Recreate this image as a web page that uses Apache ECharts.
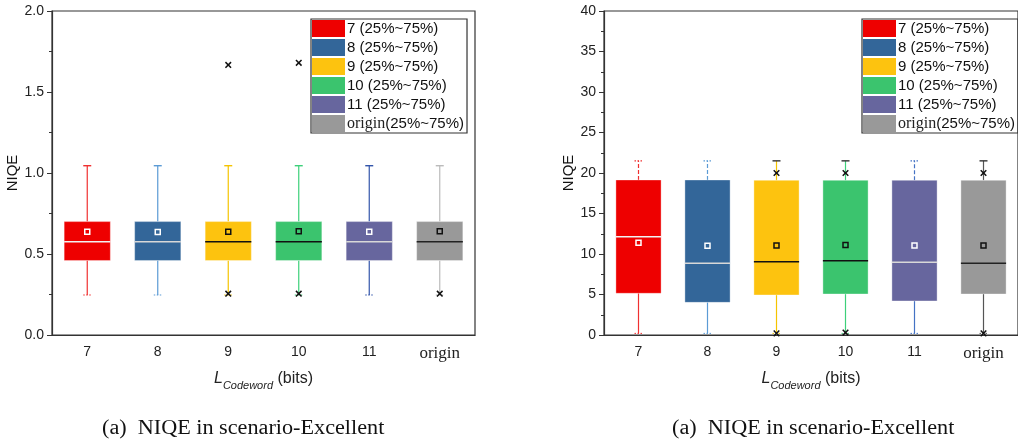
<!DOCTYPE html>
<html>
<head>
<meta charset="utf-8">
<script src="https://cdn.jsdelivr.net/npm/echarts@6/dist/echarts.min.js"></script>
<style>html,body{margin:0;padding:0;background:#fff;}#c{width:1018px;height:443px;}</style>
</head>
<body>
<div id="c"></div>
<script>
// ---------- DATA ----------
const categories = ['7', '8', '9', '10', '11', 'origin'];
const legendNames = ['7 (25%~75%)', '8 (25%~75%)', '9 (25%~75%)', '10 (25%~75%)', '11 (25%~75%)', 'origin(25%~75%)'];

// Left chart
const leftLow    = [0.247, 0.247, 0.247, 0.247, 0.247, 0.247];
const leftQ1     = [0.460, 0.460, 0.460, 0.460, 0.460, 0.460];
const leftMedian = [0.576, 0.576, 0.576, 0.576, 0.576, 0.576];
const leftQ3     = [0.700, 0.700, 0.700, 0.700, 0.700, 0.700];
const leftHigh   = [1.045, 1.045, 1.045, 1.045, 1.045, 1.045];
const leftMean   = [0.638, 0.636, 0.638, 0.640, 0.638, 0.640];
const leftOutliers = [[2, 1.667], [3, 1.680], [2, 0.255], [3, 0.255], [5, 0.255]];
const leftYTicks = [0, 0.5, 1.0, 1.5, 2.0];

// Right chart
const rightLow    = [0.2, 0.2, 0.2, 0.2, 0.2, 0.2];
const rightQ1     = [5.15, 4.03, 4.94, 5.06, 4.20, 5.06];
const rightMedian = [12.14, 8.85, 9.05, 9.17, 8.97, 8.85];
const rightQ3     = [19.14, 19.14, 19.10, 19.10, 19.10, 19.10];
const rightHigh   = [21.5, 21.5, 21.5, 21.5, 21.5, 21.5];
const rightMean   = [11.40, 11.03, 11.05, 11.10, 11.05, 11.05];
const rightOutliers = [[2, 20.0], [3, 20.0], [5, 20.0], [2, 0.2], [3, 0.3], [5, 0.2]];
const rightYTicks = [0, 5, 10, 15, 20, 25, 30, 35, 40];

// ---------- STYLES ----------
const fillColors    = ['#EE0000', '#336699', '#FDC30F', '#3BC46E', '#67669E', '#999999'];
const leftWhisker   = ['#F03030', '#5B9BD5', '#F5C400', '#3DD07A', '#3355AA', '#BBBBBB'];
const rightWhisker  = ['#F03030', '#5B9BD5', '#F5C400', '#3DD07A', '#4472C4', '#555555'];
const medianColors  = ['#F2F2F2', '#D8D8D8', '#111111', '#111111', '#D8D8D8', '#222222'];
const meanColors    = ['#FFFFFF', '#FFFFFF', '#111111', '#111111', '#FFFFFF', '#111111'];
const capDark       = [false, false, true, true, false, true];

function rows(low, q1, med, q3, high, mean, i) {
  return [[i, low[i], q1[i], med[i], q3[i], high[i], mean[i]]];
}

function boxRenderer(idx, whiskerColors, rightStyle) {
  return function (params, api) {
    const x = api.value(0);
    const pLow = api.coord([x, api.value(1)]);
    const pQ1 = api.coord([x, api.value(2)]);
    const pMed = api.coord([x, api.value(3)]);
    const pQ3 = api.coord([x, api.value(4)]);
    const pHigh = api.coord([x, api.value(5)]);
    const pMean = api.coord([x, api.value(6)]);
    const band = api.size([1, 0])[0];
    const bw = band * 0.655;
    const cx = pMed[0];
    const wc = whiskerColors[idx];
    let capColor = wc, capDash = null, upDash = null;
    if (rightStyle) {
      if (capDark[idx]) { capColor = '#333333'; }
      else { capDash = [1.5, 1.5]; upDash = [4, 2]; }
    }
    const children = [
      { type: 'line', shape: { x1: cx, y1: pQ3[1], x2: cx, y2: pHigh[1] },
        style: { stroke: wc, lineWidth: 1.2, lineDash: upDash } },
      { type: 'line', shape: { x1: cx, y1: pLow[1], x2: cx, y2: pQ1[1] },
        style: { stroke: wc, lineWidth: 1.2 } },
      { type: 'line', shape: { x1: cx - 4, y1: pHigh[1], x2: cx + 4, y2: pHigh[1] },
        style: { stroke: capColor, lineWidth: 1.4, lineDash: capDash } },
      { type: 'line', shape: { x1: cx - 4, y1: pLow[1], x2: cx + 4, y2: pLow[1] },
        style: { stroke: wc, lineWidth: 1, lineDash: [1.5, 1.5] } },
      { type: 'rect', shape: { x: cx - bw / 2, y: pQ3[1], width: bw, height: pQ1[1] - pQ3[1] },
        style: { fill: fillColors[idx], stroke: 'rgba(255,255,255,0.35)', lineWidth: 1 } },
      { type: 'line', shape: { x1: cx - bw / 2, y1: pMed[1], x2: cx + bw / 2, y2: pMed[1] },
        style: { stroke: medianColors[idx], lineWidth: 1.5 } },
      { type: 'rect', shape: { x: cx - 2.5, y: pMean[1] - 2.5, width: 5, height: 5 },
        style: { fill: 'none', stroke: meanColors[idx], lineWidth: 1.5 } }
    ];
    return { type: 'group', children: children };
  };
}

function crossRenderer(params, api) {
  const p = api.coord([api.value(0), api.value(1)]);
  const s = 2.8;
  return {
    type: 'group',
    children: [
      { type: 'line', shape: { x1: p[0] - s, y1: p[1] - s, x2: p[0] + s, y2: p[1] + s }, style: { stroke: '#111', lineWidth: 1.5 } },
      { type: 'line', shape: { x1: p[0] - s, y1: p[1] + s, x2: p[0] + s, y2: p[1] - s }, style: { stroke: '#111', lineWidth: 1.5 } }
    ]
  };
}

const series = [];
for (let i = 0; i < categories.length; i++) {
  series.push({
    type: 'custom', name: legendNames[i], xAxisIndex: 0, yAxisIndex: 0,
    itemStyle: { color: fillColors[i] },
    renderItem: boxRenderer(i, leftWhisker, false),
    encode: { x: 0, y: [1, 2, 3, 4, 5, 6] },
    data: rows(leftLow, leftQ1, leftMedian, leftQ3, leftHigh, leftMean, i),
    z: 3
  });
  series.push({
    type: 'custom', name: legendNames[i], xAxisIndex: 1, yAxisIndex: 1,
    itemStyle: { color: fillColors[i] },
    renderItem: boxRenderer(i, rightWhisker, true),
    encode: { x: 0, y: [1, 2, 3, 4, 5, 6] },
    data: rows(rightLow, rightQ1, rightMedian, rightQ3, rightHigh, rightMean, i),
    z: 3
  });
}
series.push({ type: 'custom', name: 'outL', xAxisIndex: 0, yAxisIndex: 0, renderItem: crossRenderer,
  encode: { x: 0, y: 1 }, data: leftOutliers, z: 5 });
series.push({ type: 'custom', name: 'outR', xAxisIndex: 1, yAxisIndex: 1, renderItem: crossRenderer,
  encode: { x: 0, y: 1 }, data: rightOutliers, z: 5 });

const axisFont = 'Liberation Sans, Arial, sans-serif';
const serifFont = 'Liberation Serif, Times New Roman, serif';

function xAxis(gridIndex) {
  return {
    type: 'category', gridIndex: gridIndex, data: categories, boundaryGap: true,
    axisLine: { lineStyle: { color: '#333', width: 1.2 } },
    axisTick: { alignWithLabel: true, interval: 0, length: 5, lineStyle: { color: '#333' } },
    axisLabel: {
      interval: 0, margin: 10, color: '#222', fontSize: 14, fontFamily: axisFont,
      formatter: function (v) { return v === 'origin' ? '{s|' + v + '}' : v; },
      rich: { s: { fontFamily: serifFont, fontSize: 17, color: '#222' } }
    },
    name: '{it|L}{sub|Codeword}{n| (bits)}', nameLocation: 'middle', nameGap: 36,
    nameTextStyle: {
      rich: {
        it: { fontStyle: 'italic', fontSize: 16, fontFamily: axisFont, color: '#222', verticalAlign: 'bottom' },
        sub: { fontStyle: 'italic', fontSize: 11, fontFamily: axisFont, color: '#222', verticalAlign: 'bottom', padding: [0, 0, -4, 0] },
        n: { fontSize: 16, fontFamily: axisFont, color: '#222', verticalAlign: 'bottom' }
      }
    },
    splitLine: { show: false }
  };
}

function yAxis(gridIndex, ticks, fmt, minorSplit) {
  return {
    type: 'value', gridIndex: gridIndex, min: ticks[0], max: ticks[ticks.length - 1],
    interval: ticks[1] - ticks[0],
    axisLine: { show: true, lineStyle: { color: '#333', width: 1.2 } },
    axisTick: { show: true, length: 5, lineStyle: { color: '#333' } },
    minorTick: { show: true, splitNumber: minorSplit, length: 3, lineStyle: { color: '#333' } },
    axisLabel: { color: '#222', fontSize: 14, fontFamily: axisFont, margin: 8, formatter: fmt },
    splitLine: { show: false },
    name: 'NIQE', nameLocation: 'middle', nameGap: 24,
    nameTextStyle: { fontSize: 15, fontFamily: axisFont, color: '#111' }
  };
}

function legend(left, top) {
  return {
    data: legendNames, orient: 'vertical', left: left, top: top,
    icon: 'rect', itemWidth: 33, itemHeight: 17, itemGap: 2,
    padding: [1, 3, 1, 1], borderColor: '#333', borderWidth: 1.2,
    selectedMode: false,
    textStyle: {
      fontSize: 15, fontFamily: axisFont, color: '#111', padding: [0, 0, 0, -3], lineHeight: 17,
      rich: { s: { fontFamily: serifFont, fontSize: 16, color: '#222', lineHeight: 17 } }
    },
    formatter: function (name) {
      return name.indexOf('origin') === 0 ? '{s|origin}(25%~75%)' : name;
    }
  };
}

const option = {
  animation: false,
  backgroundColor: '#ffffff',
  grid: [
    { left: 52, top: 11, width: 423, height: 324, show: true, borderColor: '#333', borderWidth: 1.2, backgroundColor: 'transparent' },
    { left: 604, top: 11, width: 424, height: 324, show: true, borderColor: '#333', borderWidth: 1.2, backgroundColor: 'transparent' }
  ],
  xAxis: [xAxis(0), xAxis(1)],
  yAxis: [
    yAxis(0, leftYTicks, function (v) { return v.toFixed(1); }, 2),
    yAxis(1, rightYTicks, function (v) { return String(v); }, 2)
  ],
  legend: [legend(311, 19), legend(862, 19)],
  graphic: [
    { type: 'text', x: 102, y: 419, scaleX: 1.11, style: { text: '(a)  NIQE in scenario-Excellent', font: '20px "Liberation Serif", serif', fill: '#111' } },
    { type: 'text', x: 672, y: 419, scaleX: 1.11, style: { text: '(a)  NIQE in scenario-Excellent', font: '20px "Liberation Serif", serif', fill: '#111' } }
  ],
  series: series
};

const chart = echarts.init(document.getElementById('c'), null, { renderer: 'canvas' });
chart.setOption(option);
</script>
</body>
</html>
